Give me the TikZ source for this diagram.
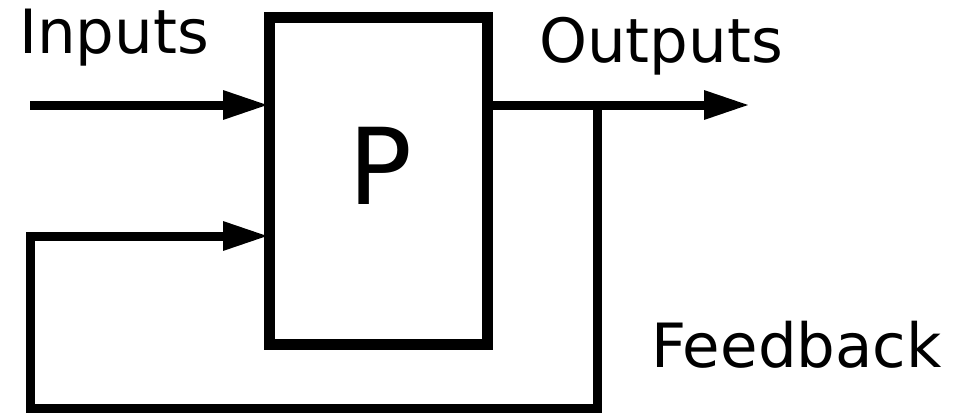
\documentclass[tikz,border=0pt]{standalone}
\usepackage{fontspec}
\setmainfont{DejaVu Sans}
\usetikzlibrary{arrows.meta}
\begin{document}
\begin{tikzpicture}[x=1pt,y=-1pt,
  plant/.style={draw=black,line width=11pt,outer sep=0pt,minimum width=218pt,minimum height=327pt,inner sep=0pt},
  conn/.style={draw=black,line width=9pt,line join=miter},
  arr/.style={conn,-{Triangle[length=46pt,width=27pt]}},
  lbl/.style={inner sep=0pt,anchor=base west,font=\fontsize{61}{72}\selectfont}]
\useasboundingbox (0,0) rectangle (974,415);
\node[plant] (box) at (378,181) {};
\node[inner sep=0pt,anchor=base west,font=\fontsize{106}{120}\selectfont] (p) at (348,204) {P};
\node[lbl] (inputs) at (19,53) {Inputs};
\node[lbl] (outputs) at (539,62) {Outputs};
\node[lbl] (feedback) at (651,367) {Feedback};
\coordinate (src) at (30,105);
\coordinate (in1) at (269,105);
\coordinate (in2) at (269,236);
\coordinate (out0) at (487,105);
\coordinate (out) at (750,105);
\coordinate (j) at (597,105);
\coordinate (br) at (597,408);
\coordinate (bl) at (30,408);
\coordinate (tl) at (30,236);
\draw[arr] (src) -- (in1);
\draw[arr] (out0) -- (out);
\draw[arr] (j) -- (br) -- (bl) -- (tl) -- (in2);
\end{tikzpicture}
\end{document}
